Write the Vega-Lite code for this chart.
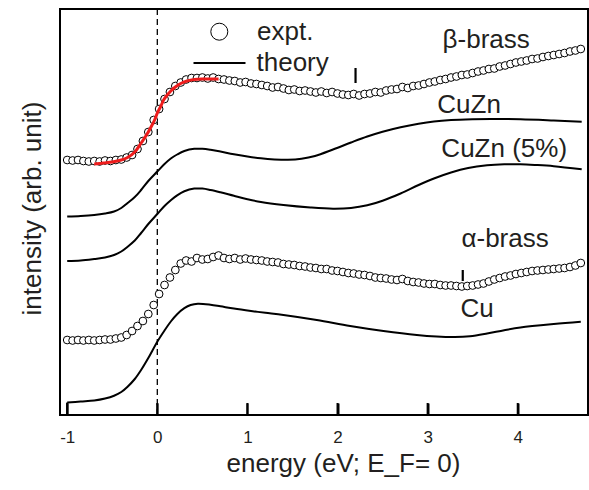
{
  "$schema": "https://vega.github.io/schema/vega-lite/v6.json",
  "width": 528,
  "height": 406,
  "autosize": {"type": "none"},
  "padding": {"left": 60, "top": 9, "right": 1, "bottom": 75},
  "config": {
    "font": "Liberation Sans",
    "view": {"stroke": "black", "strokeWidth": 2},
    "axis": {"grid": false, "tickColor": "black", "tickOpacity": 1}
  },
  "datasets": {
    "expt": [
      {"s":"beta","x":-1.00,"y":2.550},{"s":"beta","x":-0.94,"y":2.545},{"s":"beta","x":-0.88,"y":2.550},{"s":"beta","x":-0.82,"y":2.540},{"s":"beta","x":-0.76,"y":2.535},{"s":"beta","x":-0.70,"y":2.540},{"s":"beta","x":-0.64,"y":2.535},{"s":"beta","x":-0.58,"y":2.545},{"s":"beta","x":-0.52,"y":2.540},{"s":"beta","x":-0.46,"y":2.550},{"s":"beta","x":-0.40,"y":2.555},{"s":"beta","x":-0.34,"y":2.575},{"s":"beta","x":-0.28,"y":2.600},{"s":"beta","x":-0.22,"y":2.660},{"s":"beta","x":-0.16,"y":2.740},{"s":"beta","x":-0.10,"y":2.830},{"s":"beta","x":-0.04,"y":2.950},{"s":"beta","x":0.02,"y":3.060},{"s":"beta","x":0.08,"y":3.160},{"s":"beta","x":0.14,"y":3.230},{"s":"beta","x":0.20,"y":3.290},{"s":"beta","x":0.26,"y":3.325},{"s":"beta","x":0.32,"y":3.355},{"s":"beta","x":0.38,"y":3.370},{"s":"beta","x":0.44,"y":3.370},{"s":"beta","x":0.50,"y":3.375},{"s":"beta","x":0.56,"y":3.365},{"s":"beta","x":0.62,"y":3.375},{"s":"beta","x":0.68,"y":3.360},{"s":"beta","x":0.74,"y":3.355},{"s":"beta","x":0.80,"y":3.345},{"s":"beta","x":0.86,"y":3.340},{"s":"beta","x":0.92,"y":3.325},{"s":"beta","x":0.98,"y":3.330},{"s":"beta","x":1.04,"y":3.315},{"s":"beta","x":1.10,"y":3.310},{"s":"beta","x":1.16,"y":3.300},{"s":"beta","x":1.22,"y":3.290},{"s":"beta","x":1.28,"y":3.275},{"s":"beta","x":1.34,"y":3.280},{"s":"beta","x":1.40,"y":3.265},{"s":"beta","x":1.46,"y":3.250},{"s":"beta","x":1.52,"y":3.255},{"s":"beta","x":1.58,"y":3.240},{"s":"beta","x":1.64,"y":3.245},{"s":"beta","x":1.70,"y":3.235},{"s":"beta","x":1.76,"y":3.225},{"s":"beta","x":1.82,"y":3.235},{"s":"beta","x":1.88,"y":3.220},{"s":"beta","x":1.94,"y":3.230},{"s":"beta","x":2.00,"y":3.215},{"s":"beta","x":2.06,"y":3.205},{"s":"beta","x":2.12,"y":3.200},{"s":"beta","x":2.18,"y":3.210},{"s":"beta","x":2.24,"y":3.195},{"s":"beta","x":2.30,"y":3.210},{"s":"beta","x":2.36,"y":3.215},{"s":"beta","x":2.42,"y":3.230},{"s":"beta","x":2.48,"y":3.225},{"s":"beta","x":2.54,"y":3.245},{"s":"beta","x":2.60,"y":3.255},{"s":"beta","x":2.66,"y":3.260},{"s":"beta","x":2.72,"y":3.280},{"s":"beta","x":2.78,"y":3.270},{"s":"beta","x":2.84,"y":3.290},{"s":"beta","x":2.90,"y":3.295},{"s":"beta","x":2.96,"y":3.310},{"s":"beta","x":3.02,"y":3.325},{"s":"beta","x":3.08,"y":3.335},{"s":"beta","x":3.14,"y":3.350},{"s":"beta","x":3.20,"y":3.360},{"s":"beta","x":3.26,"y":3.375},{"s":"beta","x":3.32,"y":3.385},{"s":"beta","x":3.38,"y":3.400},{"s":"beta","x":3.44,"y":3.405},{"s":"beta","x":3.50,"y":3.420},{"s":"beta","x":3.56,"y":3.435},{"s":"beta","x":3.62,"y":3.445},{"s":"beta","x":3.68,"y":3.460},{"s":"beta","x":3.74,"y":3.465},{"s":"beta","x":3.80,"y":3.485},{"s":"beta","x":3.86,"y":3.495},{"s":"beta","x":3.92,"y":3.510},{"s":"beta","x":3.98,"y":3.525},{"s":"beta","x":4.04,"y":3.535},{"s":"beta","x":4.10,"y":3.545},{"s":"beta","x":4.16,"y":3.560},{"s":"beta","x":4.22,"y":3.565},{"s":"beta","x":4.28,"y":3.580},{"s":"beta","x":4.34,"y":3.590},{"s":"beta","x":4.40,"y":3.600},{"s":"beta","x":4.46,"y":3.610},{"s":"beta","x":4.52,"y":3.620},{"s":"beta","x":4.58,"y":3.635},{"s":"beta","x":4.64,"y":3.645},{"s":"beta","x":4.70,"y":3.660},
      {"s":"alpha","x":-1.00,"y":0.750},{"s":"alpha","x":-0.94,"y":0.745},{"s":"alpha","x":-0.88,"y":0.750},{"s":"alpha","x":-0.82,"y":0.745},{"s":"alpha","x":-0.76,"y":0.750},{"s":"alpha","x":-0.70,"y":0.745},{"s":"alpha","x":-0.64,"y":0.750},{"s":"alpha","x":-0.58,"y":0.755},{"s":"alpha","x":-0.52,"y":0.755},{"s":"alpha","x":-0.46,"y":0.765},{"s":"alpha","x":-0.40,"y":0.775},{"s":"alpha","x":-0.34,"y":0.800},{"s":"alpha","x":-0.28,"y":0.840},{"s":"alpha","x":-0.22,"y":0.890},{"s":"alpha","x":-0.16,"y":0.940},{"s":"alpha","x":-0.10,"y":1.010},{"s":"alpha","x":-0.04,"y":1.100},{"s":"alpha","x":0.02,"y":1.210},{"s":"alpha","x":0.08,"y":1.300},{"s":"alpha","x":0.14,"y":1.375},{"s":"alpha","x":0.20,"y":1.450},{"s":"alpha","x":0.26,"y":1.515},{"s":"alpha","x":0.32,"y":1.545},{"s":"alpha","x":0.38,"y":1.535},{"s":"alpha","x":0.44,"y":1.570},{"s":"alpha","x":0.50,"y":1.555},{"s":"alpha","x":0.56,"y":1.560},{"s":"alpha","x":0.62,"y":1.580},{"s":"alpha","x":0.68,"y":1.595},{"s":"alpha","x":0.74,"y":1.570},{"s":"alpha","x":0.80,"y":1.560},{"s":"alpha","x":0.86,"y":1.570},{"s":"alpha","x":0.92,"y":1.555},{"s":"alpha","x":0.98,"y":1.565},{"s":"alpha","x":1.04,"y":1.555},{"s":"alpha","x":1.10,"y":1.550},{"s":"alpha","x":1.16,"y":1.545},{"s":"alpha","x":1.22,"y":1.535},{"s":"alpha","x":1.28,"y":1.530},{"s":"alpha","x":1.34,"y":1.525},{"s":"alpha","x":1.40,"y":1.510},{"s":"alpha","x":1.46,"y":1.505},{"s":"alpha","x":1.52,"y":1.500},{"s":"alpha","x":1.58,"y":1.490},{"s":"alpha","x":1.64,"y":1.485},{"s":"alpha","x":1.70,"y":1.475},{"s":"alpha","x":1.76,"y":1.470},{"s":"alpha","x":1.82,"y":1.460},{"s":"alpha","x":1.88,"y":1.460},{"s":"alpha","x":1.94,"y":1.445},{"s":"alpha","x":2.00,"y":1.440},{"s":"alpha","x":2.06,"y":1.430},{"s":"alpha","x":2.12,"y":1.420},{"s":"alpha","x":2.18,"y":1.415},{"s":"alpha","x":2.24,"y":1.405},{"s":"alpha","x":2.30,"y":1.400},{"s":"alpha","x":2.36,"y":1.390},{"s":"alpha","x":2.42,"y":1.375},{"s":"alpha","x":2.48,"y":1.370},{"s":"alpha","x":2.54,"y":1.365},{"s":"alpha","x":2.60,"y":1.355},{"s":"alpha","x":2.66,"y":1.350},{"s":"alpha","x":2.72,"y":1.360},{"s":"alpha","x":2.78,"y":1.340},{"s":"alpha","x":2.84,"y":1.330},{"s":"alpha","x":2.90,"y":1.325},{"s":"alpha","x":2.96,"y":1.315},{"s":"alpha","x":3.02,"y":1.310},{"s":"alpha","x":3.08,"y":1.310},{"s":"alpha","x":3.14,"y":1.300},{"s":"alpha","x":3.20,"y":1.295},{"s":"alpha","x":3.26,"y":1.295},{"s":"alpha","x":3.32,"y":1.290},{"s":"alpha","x":3.38,"y":1.285},{"s":"alpha","x":3.44,"y":1.290},{"s":"alpha","x":3.50,"y":1.295},{"s":"alpha","x":3.56,"y":1.305},{"s":"alpha","x":3.62,"y":1.315},{"s":"alpha","x":3.68,"y":1.335},{"s":"alpha","x":3.74,"y":1.355},{"s":"alpha","x":3.80,"y":1.370},{"s":"alpha","x":3.86,"y":1.385},{"s":"alpha","x":3.92,"y":1.395},{"s":"alpha","x":3.98,"y":1.410},{"s":"alpha","x":4.04,"y":1.420},{"s":"alpha","x":4.10,"y":1.430},{"s":"alpha","x":4.16,"y":1.440},{"s":"alpha","x":4.22,"y":1.445},{"s":"alpha","x":4.28,"y":1.450},{"s":"alpha","x":4.34,"y":1.455},{"s":"alpha","x":4.40,"y":1.460},{"s":"alpha","x":4.46,"y":1.465},{"s":"alpha","x":4.52,"y":1.470},{"s":"alpha","x":4.58,"y":1.480},{"s":"alpha","x":4.64,"y":1.495},{"s":"alpha","x":4.70,"y":1.520}
    ],
    "fit": [
      {"x":-0.70,"y":2.51},{"x":-0.60,"y":2.52},{"x":-0.50,"y":2.53},{"x":-0.40,"y":2.55},{"x":-0.33,"y":2.575},{"x":-0.25,"y":2.63},{"x":-0.18,"y":2.72},{"x":-0.12,"y":2.80},{"x":-0.07,"y":2.88},{"x":-0.03,"y":2.95},{"x":0.00,"y":3.02},{"x":0.04,"y":3.09},{"x":0.07,"y":3.15},{"x":0.11,"y":3.20},{"x":0.15,"y":3.24},{"x":0.20,"y":3.28},{"x":0.26,"y":3.315},{"x":0.33,"y":3.34},{"x":0.41,"y":3.355},{"x":0.50,"y":3.36},{"x":0.60,"y":3.36},{"x":0.68,"y":3.36}
    ],
    "theory": [
      {"s":"CuZn","x":-1.00,"y":1.985},{"s":"CuZn","x":-0.85,"y":1.99},{"s":"CuZn","x":-0.70,"y":2.00},{"s":"CuZn","x":-0.58,"y":2.015},{"s":"CuZn","x":-0.48,"y":2.035},{"s":"CuZn","x":-0.40,"y":2.07},{"s":"CuZn","x":-0.33,"y":2.12},{"s":"CuZn","x":-0.25,"y":2.18},{"s":"CuZn","x":-0.18,"y":2.25},{"s":"CuZn","x":-0.10,"y":2.34},{"s":"CuZn","x":0.00,"y":2.435},{"s":"CuZn","x":0.08,"y":2.51},{"s":"CuZn","x":0.15,"y":2.565},{"s":"CuZn","x":0.22,"y":2.605},{"s":"CuZn","x":0.30,"y":2.64},{"s":"CuZn","x":0.41,"y":2.662},{"s":"CuZn","x":0.50,"y":2.662},{"s":"CuZn","x":0.59,"y":2.652},{"s":"CuZn","x":0.70,"y":2.634},{"s":"CuZn","x":0.85,"y":2.608},{"s":"CuZn","x":1.00,"y":2.585},{"s":"CuZn","x":1.15,"y":2.567},{"s":"CuZn","x":1.30,"y":2.556},{"s":"CuZn","x":1.45,"y":2.552},{"s":"CuZn","x":1.60,"y":2.562},{"s":"CuZn","x":1.75,"y":2.59},{"s":"CuZn","x":1.95,"y":2.655},{"s":"CuZn","x":2.15,"y":2.725},{"s":"CuZn","x":2.33,"y":2.785},{"s":"CuZn","x":2.50,"y":2.833},{"s":"CuZn","x":2.70,"y":2.878},{"s":"CuZn","x":2.90,"y":2.913},{"s":"CuZn","x":3.07,"y":2.935},{"s":"CuZn","x":3.26,"y":2.949},{"s":"CuZn","x":3.50,"y":2.957},{"s":"CuZn","x":3.70,"y":2.96},{"s":"CuZn","x":4.03,"y":2.957},{"s":"CuZn","x":4.40,"y":2.945},{"s":"CuZn","x":4.71,"y":2.933},
      {"s":"CuZn5","x":-1.00,"y":1.54},{"s":"CuZn5","x":-0.85,"y":1.545},{"s":"CuZn5","x":-0.70,"y":1.56},{"s":"CuZn5","x":-0.58,"y":1.575},{"s":"CuZn5","x":-0.48,"y":1.60},{"s":"CuZn5","x":-0.40,"y":1.635},{"s":"CuZn5","x":-0.33,"y":1.683},{"s":"CuZn5","x":-0.25,"y":1.745},{"s":"CuZn5","x":-0.18,"y":1.82},{"s":"CuZn5","x":-0.10,"y":1.91},{"s":"CuZn5","x":0.00,"y":2.01},{"s":"CuZn5","x":0.08,"y":2.09},{"s":"CuZn5","x":0.15,"y":2.147},{"s":"CuZn5","x":0.22,"y":2.197},{"s":"CuZn5","x":0.30,"y":2.238},{"s":"CuZn5","x":0.41,"y":2.264},{"s":"CuZn5","x":0.50,"y":2.264},{"s":"CuZn5","x":0.59,"y":2.25},{"s":"CuZn5","x":0.70,"y":2.227},{"s":"CuZn5","x":0.85,"y":2.192},{"s":"CuZn5","x":1.00,"y":2.158},{"s":"CuZn5","x":1.15,"y":2.13},{"s":"CuZn5","x":1.40,"y":2.10},{"s":"CuZn5","x":1.70,"y":2.075},{"s":"CuZn5","x":1.95,"y":2.063},{"s":"CuZn5","x":2.15,"y":2.07},{"s":"CuZn5","x":2.33,"y":2.097},{"s":"CuZn5","x":2.50,"y":2.143},{"s":"CuZn5","x":2.70,"y":2.215},{"s":"CuZn5","x":2.90,"y":2.30},{"s":"CuZn5","x":3.07,"y":2.365},{"s":"CuZn5","x":3.26,"y":2.425},{"s":"CuZn5","x":3.45,"y":2.47},{"s":"CuZn5","x":3.66,"y":2.497},{"s":"CuZn5","x":3.85,"y":2.507},{"s":"CuZn5","x":4.03,"y":2.507},{"s":"CuZn5","x":4.20,"y":2.50},{"s":"CuZn5","x":4.40,"y":2.488},{"s":"CuZn5","x":4.71,"y":2.457},
      {"s":"Cu","x":-1.00,"y":0.125},{"s":"Cu","x":-0.85,"y":0.135},{"s":"Cu","x":-0.70,"y":0.145},{"s":"Cu","x":-0.58,"y":0.165},{"s":"Cu","x":-0.48,"y":0.193},{"s":"Cu","x":-0.40,"y":0.23},{"s":"Cu","x":-0.33,"y":0.283},{"s":"Cu","x":-0.25,"y":0.36},{"s":"Cu","x":-0.18,"y":0.45},{"s":"Cu","x":-0.10,"y":0.57},{"s":"Cu","x":0.00,"y":0.733},{"s":"Cu","x":0.08,"y":0.845},{"s":"Cu","x":0.15,"y":0.935},{"s":"Cu","x":0.22,"y":1.008},{"s":"Cu","x":0.30,"y":1.068},{"s":"Cu","x":0.37,"y":1.1},{"s":"Cu","x":0.45,"y":1.113},{"s":"Cu","x":0.59,"y":1.103},{"s":"Cu","x":0.70,"y":1.087},{"s":"Cu","x":0.85,"y":1.064},{"s":"Cu","x":1.04,"y":1.04},{"s":"Cu","x":1.20,"y":1.022},{"s":"Cu","x":1.40,"y":1.00},{"s":"Cu","x":1.77,"y":0.95},{"s":"Cu","x":2.14,"y":0.89},{"s":"Cu","x":2.51,"y":0.84},{"s":"Cu","x":2.88,"y":0.80},{"s":"Cu","x":3.10,"y":0.785},{"s":"Cu","x":3.30,"y":0.78},{"s":"Cu","x":3.47,"y":0.788},{"s":"Cu","x":3.66,"y":0.815},{"s":"Cu","x":3.85,"y":0.848},{"s":"Cu","x":4.03,"y":0.875},{"s":"Cu","x":4.40,"y":0.91},{"s":"Cu","x":4.70,"y":0.933}
    ],
    "zero": [{"x":0}],
    "ticks": [{"x":-1,"y":0,"y2":0.12},{"x":0,"y":0,"y2":0.12},{"x":1,"y":0,"y2":0.12},{"x":2,"y":0,"y2":0.12},{"x":3,"y":0,"y2":0.12},{"x":4,"y":0,"y2":0.12}],
    "custart": [{"x":-1.0,"y":0,"y2":0.125}],
    "bars": [{"x":2.20,"y":3.47,"y2":3.32},{"x":3.39,"y":1.45,"y2":1.34}],
    "labels": [
      {"x":3.65,"y":3.67,"t":"β-brass"},
      {"x":3.46,"y":3.02,"t":"CuZn"},
      {"x":3.85,"y":2.58,"t":"CuZn (5%)"},
      {"x":3.86,"y":1.68,"t":"α-brass"},
      {"x":3.55,"y":0.98,"t":"Cu"}
    ]
  },
  "layer": [
    {
      "data": {"name": "theory"},
      "mark": {"type": "line", "strokeWidth": 2, "interpolate": "catmull-rom"},
      "encoding": {
        "x": {
          "field": "x", "type": "quantitative",
          "scale": {"domain": [-1.08, 4.78], "nice": false, "zero": false},
          "axis": {
            "title": "energy (eV; E_F= 0)",
            "values": [-1, 0, 1, 2, 3, 4],
            "format": "d",
            "labelExpr": "replace(datum.label, '−', '-')",
            "domain": false, "zindex": 1, "offset": -12,
            "ticks": true, "tickSize": 12, "tickWidth": 2, "tickColor": "black",
            "labelPadding": 14, "labelFontSize": 17, "labelColor": "#231f20",
            "labelFont": "Liberation Sans",
            "titleFontSize": 26, "titleFontWeight": "normal", "titleColor": "#231f20",
            "titleFont": "Liberation Sans",
            "titleX": 283, "titleY": 68, "titleBaseline": "alphabetic", "titleAlign": "center"
          }
        },
        "y": {
          "field": "y", "type": "quantitative",
          "scale": {"domain": [0, 4.06], "nice": false, "zero": false},
          "axis": {
            "title": "intensity (arb. unit)",
            "domain": false, "ticks": false, "labels": false,
            "titleFontSize": 26, "titleFontWeight": "normal", "titleColor": "#231f20",
            "titleFont": "Liberation Sans",
            "titleX": -28, "titleY": 199, "titleAngle": 270, "titleBaseline": "middle", "titleAlign": "center"
          }
        },
        "detail": {"field": "s"},
        "color": {
          "datum": "theory",
          "scale": {"domain": ["theory"], "range": ["black"]},
          "legend": {
            "title": null, "orient": "none", "legendX": 132.5, "legendY": 27,
            "symbolType": "stroke", "symbolSize": 2704, "symbolStrokeWidth": 2,
            "symbolStrokeColor": "black",
            "labelOffset": 10, "labelFontSize": 26, "labelColor": "#231f20",
            "labelFont": "Liberation Sans", "padding": 0
          }
        }
      }
    },
    {
      "data": {"name": "zero"},
      "mark": {"type": "rule", "color": "black", "strokeWidth": 1.3, "strokeDash": [6, 4]},
      "encoding": {"x": {"field": "x", "type": "quantitative"}}
    },
    {
      "data": {"name": "ticks"},
      "mark": {"type": "rule", "color": "black", "strokeWidth": 2},
      "encoding": {
        "x": {"field": "x", "type": "quantitative"},
        "y": {"field": "y", "type": "quantitative"},
        "y2": {"field": "y2"}
      }
    },
    {
      "data": {"name": "custart"},
      "mark": {"type": "rule", "color": "black", "strokeWidth": 2},
      "encoding": {
        "x": {"field": "x", "type": "quantitative"},
        "y": {"field": "y", "type": "quantitative"},
        "y2": {"field": "y2"}
      }
    },
    {
      "data": {"name": "expt"},
      "mark": {"type": "point", "shape": "circle", "filled": false, "fill": "white", "strokeWidth": 1, "size": 60, "opacity": 1},
      "encoding": {
        "x": {"field": "x", "type": "quantitative"},
        "y": {"field": "y", "type": "quantitative"},
        "detail": {"field": "s"},
        "stroke": {
          "datum": "expt.",
          "scale": {"domain": ["expt."], "range": ["black"]},
          "legend": {
            "title": null, "orient": "none", "legendX": 146.3, "legendY": 9.7,
            "symbolType": "circle", "symbolSize": 289, "symbolStrokeWidth": 1,
            "symbolFillColor": "white",
            "labelOffset": 24.7, "labelFontSize": 26, "labelColor": "#231f20",
            "labelFont": "Liberation Sans", "padding": 0
          }
        }
      }
    },
    {
      "data": {"name": "fit"},
      "mark": {"type": "line", "color": "#ee1c1c", "strokeWidth": 3, "interpolate": "catmull-rom"},
      "encoding": {
        "x": {"field": "x", "type": "quantitative"},
        "y": {"field": "y", "type": "quantitative"}
      }
    },
    {
      "data": {"name": "bars"},
      "mark": {"type": "rule", "color": "black", "strokeWidth": 2.2},
      "encoding": {
        "x": {"field": "x", "type": "quantitative"},
        "y": {"field": "y", "type": "quantitative"},
        "y2": {"field": "y2"}
      }
    },
    {
      "data": {"name": "labels"},
      "mark": {"type": "text", "font": "Liberation Sans", "fontSize": 26, "color": "#231f20", "align": "center", "baseline": "alphabetic"},
      "encoding": {
        "x": {"field": "x", "type": "quantitative"},
        "y": {"field": "y", "type": "quantitative"},
        "text": {"field": "t"}
      }
    }
  ]
}
